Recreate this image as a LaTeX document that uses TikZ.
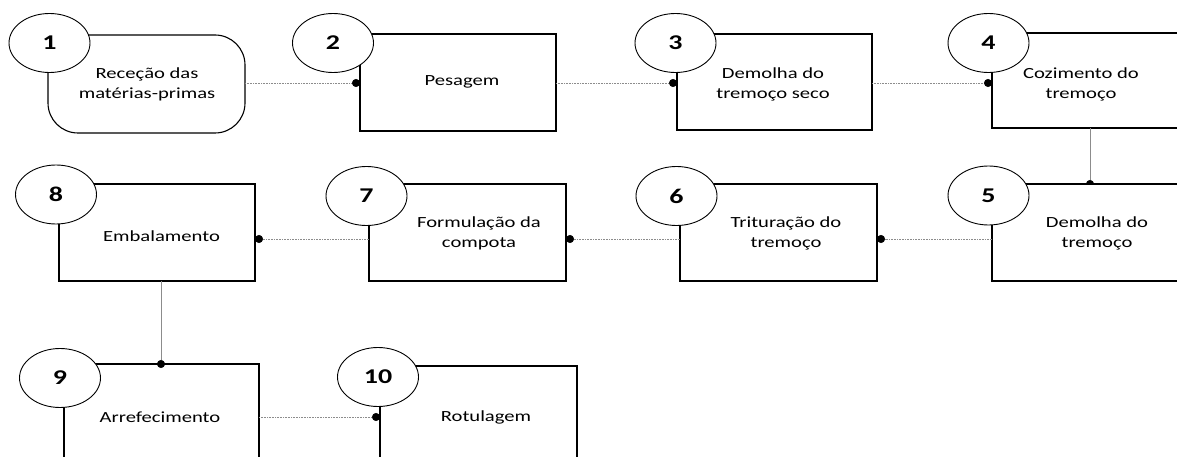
\documentclass[tikz,border=0pt]{standalone}
\usepackage{fontspec}
\setmainfont{Carlito}[FakeStretch=1.33]
\usetikzlibrary{arrows.meta,shapes.geometric}
\newcommand\procbox[6][]{%
  \node[box,#1,minimum width={(#5-#3)*1pt},minimum height={(#6-#4)*1pt}] (#2) at ({(#3+#5)/2},{(#4+#6)/2}) {};}
\begin{document}
\begin{tikzpicture}[x=1pt,y=-1pt,
  box/.style={draw=black,line width=1.1pt,fill=white,inner sep=0pt,outer sep=0pt},
  num/.style={draw=black,line width=0.9pt,fill=white,ellipse,minimum width=81pt,minimum height=59pt,inner sep=0pt,font=\fontsize{21}{24}\selectfont\bfseries},
  txt/.style={align=center,inner sep=0pt,font=\fontsize{15.5}{20}\selectfont},
  conn/.style={draw=black!45,line width=0.6pt,densely dotted},
  vconn/.style={draw=black!45,line width=0.6pt},
  dot/.style={-{Circle[length=8pt,color=black]}}]
\useasboundingbox (0,0) rectangle (1177,457);
\begin{scope}
\clip (0,0) rectangle (1177,457);
\coordinate (r1) at (0,83);
\coordinate (r2) at (0,239);
\coordinate (r3) at (0,417);
\coordinate (c45) at (1090,0);
\coordinate (c89) at (161,0);
% boxes
\procbox[rounded corners=30pt]{b1}{48}{35}{245}{133}
\procbox{b2}{360}{34}{556}{131}
\procbox{b3}{677}{34}{872}{130}
\procbox{b4}{992}{33}{1200}{128}
\draw[vconn,dot,shorten >=-4pt] (c45 |- b4.south) -- (c45 |- 0,184);
\procbox{b5}{992}{184}{1200}{281}
\procbox{b6}{680}{184}{877}{281}
\procbox{b7}{369}{184}{566}{281}
\procbox{b8}{59}{184}{255}{281}
\procbox{b9}{64}{364}{259}{480}
\procbox{b10}{380}{366}{577}{480}
% connectors
\draw[conn,dot] (b1.east |- r1) -- (b2.west |- r1);
\draw[conn,dot] (b2.east |- r1) -- (b3.west |- r1);
\draw[conn,dot] (b3.east |- r1) -- (b4.west |- r1);
\draw[conn,dot] (b5.west |- r2) -- (b6.east |- r2);
\draw[conn,dot] (b6.west |- r2) -- (b7.east |- r2);
\draw[conn,dot] (b7.west |- r2) -- (b8.east |- r2);
\draw[vconn,dot,shorten >=-4pt] (c89 |- b8.south) -- (c89 |- b9.north);
\draw[conn,dot] (b9.east |- r3) -- (b10.west |- r3);
% texts
\node[txt] (t1) at (147,84) {Receção das\\matérias-primas};
\node[txt] (t2) at (462,82) {Pesagem};
\node[txt] (t3) at (773,84) {Demolha do\\tremoço seco};
\node[txt] (t4) at (1081,84) {Cozimento do\\tremoço};
\node[txt] (t5) at (1097,233) {Demolha do\\tremoço};
\node[txt] (t6) at (786,233) {Trituração do\\tremoço};
\node[txt] (t7) at (479,233) {Formulação da\\compota};
\node[txt] (t8) at (161.5,236) {Embalamento};
\node[txt] (t9) at (160,417) {Arrefecimento};
\node[txt] (t10) at (486,417) {Rotulagem};
% numbers
\node[num] (e1) at (49.5,43) {1};
\node[num] (e2) at (333,43) {2};
\node[num] (e3) at (675.5,43) {3};
\node[num] (e4) at (988.5,43) {4};
\node[num] (e5) at (988.5,195.5) {5};
\node[num] (e6) at (676.5,196) {6};
\node[num] (e7) at (366.5,196) {7};
\node[num] (e8) at (56,194.5) {8};
\node[num] (e9) at (60,378) {9};
\node[num] (e10) at (378,377) {10};
\end{scope}
\end{tikzpicture}
\end{document}
